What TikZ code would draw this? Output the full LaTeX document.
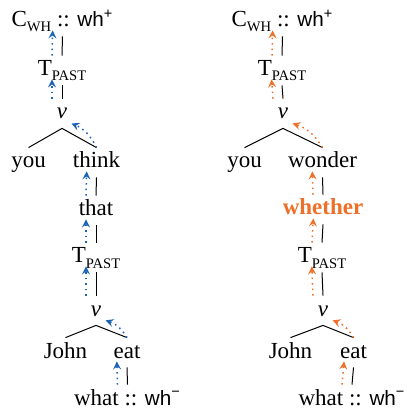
\documentclass[tikz,border=0pt]{standalone}
\usepackage{fontspec}
\setmainfont{Liberation Serif}
\setsansfont{Liberation Sans}[Scale=0.9]
\definecolor{moveblue}{RGB}{28,100,182}
\definecolor{moveorange}{RGB}{238,112,40}
\newcommand{\lowcaps}[1]{\raisebox{-2.5pt}{\fontsize{7.3}{7.3}\selectfont #1}}
\begin{document}
\begin{tikzpicture}[x=0.5pt, y=-0.5pt]
        \tikzstyle{word} = [anchor=base, inner sep=2pt, text height=8pt, text depth=2.5pt, font=\fontsize{11.5}{13}\selectfont]
        \tikzstyle{bar} = [line width=0.5pt]
        \tikzstyle{bluemove} = [dotted, line width=0.75pt, moveblue, ->, >=stealth]
        \tikzstyle{orangemove} = [dotted, line width=0.75pt, moveorange, ->, >=stealth]

        \useasboundingbox (0,0) rectangle (406,410);

        % left tree: think ... that
        \node [word] (lcwh)   at (62.5,27) {C\lowcaps{WH} :: {\sffamily wh}\textsuperscript{\sffamily +}};
        \node [word] (ltpast) at (62,76)   {T\lowcaps{PAST}};
        \node [word] (lv)     at (62,119)  {\textit{v}};
        \node [word] (lyou)   at (28.5,168) {you};
        \node [word] (lthink) at (96.5,168) {think};
        \node [word] (lthat)  at (96,216)  {that};
        \node [word] (ltpast2) at (96,263) {T\lowcaps{PAST}};
        \node [word] (lv2)    at (96,316)  {\textit{v}};
        \node [word] (ljohn)  at (65.5,358) {John};
        \node [word] (leat)   at (127,358) {eat};
        \node [word] (lwhat)  at (127.5,405) {what :: {\sffamily wh}\textsuperscript{\sffamily −}};

        \draw [bar] (lcwh.south) -- (ltpast.north);
        \draw [bar] (ltpast.south) -- (lv.north);
        \draw [bar] (lv.south) -- (lyou.north);
        \draw [bar] (lv.south) -- (lthink.north);
        \draw [bar] (lthink.south) -- (lthat.north);
        \draw [bar] (lthat.south) -- (ltpast2.north);
        \draw [bar] (ltpast2.south) -- (lv2.north);
        \draw [bar] (lv2.south) -- (ljohn.north);
        \draw [bar] (lv2.south) -- (leat.north);
        \draw [bar] (leat.south) -- (lwhat.north);

        \draw [bluemove, shorten >=-3pt] ([xshift=-5pt]ltpast.north) -- ([xshift=-5pt]lcwh.south);
        \draw [bluemove, shorten >=-3pt] ([xshift=-5pt]lv.north) -- ([xshift=-5pt]ltpast.south);
        \draw [bluemove] (lthink.north) to[bend right=20] ([yshift=2.5pt]lv.south east);
        \draw [bluemove, shorten >=-3pt] ([xshift=-5pt]lthat.north) -- ([xshift=-5pt]lthink.south);
        \draw [bluemove, shorten >=-3pt] ([xshift=-5pt]ltpast2.north) -- ([xshift=-5pt]lthat.south);
        \draw [bluemove, shorten >=-3pt] ([xshift=-5pt]lv2.north) -- ([xshift=-5pt]ltpast2.south);
        \draw [bluemove] (leat.north) to[bend right=20] ([yshift=2.5pt]lv2.south east);
        \draw [bluemove, shorten >=-3pt] ([xshift=-5pt]lwhat.north) -- ([xshift=-5pt]leat.south);

        % right tree: wonder ... whether
        \node [word] (rcwh)   at (282.5,27) {C\lowcaps{WH} :: {\sffamily wh}\textsuperscript{\sffamily +}};
        \node [word] (rtpast) at (282,76)   {T\lowcaps{PAST}};
        \node [word] (rv)     at (283,119)  {\textit{v}};
        \node [word] (ryou)   at (244.5,168) {you};
        \node [word] (rwonder) at (322.5,168) {wonder};
        \node [word, text=moveorange, font=\fontsize{11.5}{13}\selectfont\bfseries] (rwhether) at (323,215) {whether};
        \node [word] (rtpast2) at (322,263) {T\lowcaps{PAST}};
        \node [word] (rv2)    at (323,316)  {\textit{v}};
        \node [word] (rjohn)  at (290.5,358) {John};
        \node [word] (reat)   at (353.5,358) {eat};
        \node [word] (rwhat)  at (352,405)  {what :: {\sffamily wh}\textsuperscript{\sffamily −}};

        \draw [bar] (rcwh.south) -- (rtpast.north);
        \draw [bar] (rtpast.south) -- (rv.north);
        \draw [bar] (rv.south) -- (ryou.north);
        \draw [bar] (rv.south) -- (rwonder.north);
        \draw [bar] (rwonder.south) -- (rwhether.north);
        \draw [bar] (rwhether.south) -- (rtpast2.north);
        \draw [bar] (rtpast2.south) -- (rv2.north);
        \draw [bar] (rv2.south) -- (rjohn.north);
        \draw [bar] (rv2.south) -- (reat.north);
        \draw [bar] (reat.south) -- (rwhat.north);

        \draw [orangemove, shorten >=-3pt] ([xshift=-5pt]rtpast.north) -- ([xshift=-5pt]rcwh.south);
        \draw [orangemove, shorten >=-3pt] ([xshift=-5pt]rv.north) -- ([xshift=-5pt]rtpast.south);
        \draw [orangemove] (rwonder.north) to[bend right=20] ([yshift=2.5pt]rv.south east);
        \draw [orangemove, shorten >=-3pt] ([xshift=-5pt]rwhether.north) -- ([xshift=-5pt]rwonder.south);
        \draw [orangemove, shorten >=-3pt] ([xshift=-5pt]rtpast2.north) -- ([xshift=-5pt]rwhether.south);
        \draw [orangemove, shorten >=-3pt] ([xshift=-5pt]rv2.north) -- ([xshift=-5pt]rtpast2.south);
        \draw [orangemove] (reat.north) to[bend right=20] ([yshift=2.5pt]rv2.south east);
        \draw [orangemove, shorten >=-3pt] ([xshift=-5pt]rwhat.north) -- ([xshift=-5pt]reat.south);
    \end{tikzpicture}
\end{document}
